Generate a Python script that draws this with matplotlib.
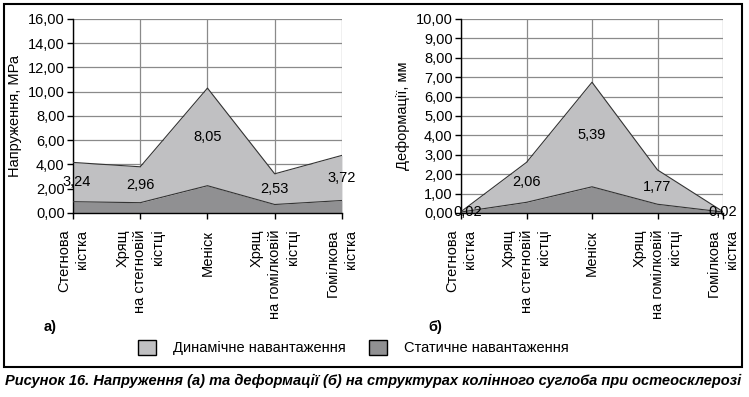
import matplotlib.pyplot as plt
from matplotlib.patches import Patch, Rectangle
from matplotlib.ticker import FuncFormatter
import numpy as np

plt.rcParams['font.family'] = ['Liberation Sans', 'DejaVu Sans']

categories = ['Стегнова\nкістка', 'Хрящ\nна стегновій\nкістці', 'Меніск',
              'Хрящ\nна гомілковій\nкістці', 'Гомілкова\nкістка']

# а) stress, MPa
static_a = [0.93, 0.85, 2.25, 0.70, 1.03]
dynamic_a = [3.24, 2.96, 8.05, 2.53, 3.72]

# б) deformation, mm
static_b = [0.05, 0.55, 1.35, 0.45, 0.05]
dynamic_b = [0.02, 2.06, 5.39, 1.77, 0.02]

c_dyn = '#c0c0c2'
c_stat = '#909092'
comma = FuncFormatter(lambda v, p: ('%.2f' % v).replace('.', ','))

fig = plt.figure(figsize=(7.49, 3.97), dpi=100)
ax1 = fig.add_axes([0.0975, 0.4635, 0.359, 0.4887])
ax2 = fig.add_axes([0.6155, 0.4635, 0.3498, 0.4887])


def draw(ax, stat, dyn, ymax, step, ylabel, shift_ends=0):
    x = np.arange(len(categories))
    stat = np.array(stat)
    dyn = np.array(dyn)
    top = stat + dyn
    ax.fill_between(x, 0, stat, color=c_stat, lw=0, zorder=2)
    ax.fill_between(x, stat, top, color=c_dyn, lw=0, zorder=2)
    ax.plot(x, stat, color='#333333', lw=0.8, zorder=3)
    ax.plot(x, top, color='#333333', lw=0.8, zorder=3)
    n = len(x)
    for i, (xi, s, d) in enumerate(zip(x, stat, dyn)):
        dx = shift_ends if i == 0 else 0
        ax.text(xi + dx, s + d / 2, ('%.2f' % d).replace('.', ','), ha='center',
                va='center', fontsize=10.5, zorder=4, clip_on=False)
    ax.set_xlim(0, n - 1)
    ax.set_ylim(0, ymax)
    ax.set_yticks(np.arange(0, ymax + step / 2, step))
    ax.yaxis.set_major_formatter(comma)
    ax.set_xticks(x)
    ax.set_xticklabels(categories, rotation=90, va='top', ha='center',
                       multialignment='right', fontsize=10.5, linespacing=1.35)
    ax.grid(True, color='#8a8a8a', lw=0.9, zorder=1)
    ax.set_axisbelow(True)
    for s in ['top', 'right']:
        ax.spines[s].set_visible(False)
    for s in ['left', 'bottom']:
        ax.spines[s].set_color('black')
        ax.spines[s].set_linewidth(1.0)
    ax.tick_params(direction='out', length=4, width=1, labelsize=10.5, pad=2)
    ax.tick_params(axis='x', pad=8)
    ax.set_ylabel(ylabel, fontsize=10.5, labelpad=4)


draw(ax1, static_a, dynamic_a, 16, 2, 'Напруження, МРа', shift_ends=0.06)
draw(ax2, static_b, dynamic_b, 10, 1, 'Деформації, мм', shift_ends=0.1)

fig.text(0.058, 0.176, 'а)', fontsize=10.5, fontweight='bold', va='center')
fig.text(0.572, 0.176, 'б)', fontsize=10.5, fontweight='bold', va='center')

handles = [Patch(facecolor=c_dyn, edgecolor='black', lw=1),
           Patch(facecolor=c_stat, edgecolor='black', lw=1)]
fig.legend(handles, ['Динамічне навантаження', 'Статичне навантаження'],
           loc='center', bbox_to_anchor=(0.472, 0.125), ncol=2, frameon=False,
           fontsize=10.5, handlelength=1.2, handleheight=1.2,
           columnspacing=1.6, handletextpad=1.2)

fig.patches.append(Rectangle((4 / 749, 1 - 367 / 397), 738 / 749, 363 / 397,
                             transform=fig.transFigure, fill=False,
                             edgecolor='black', lw=1.5))

fig.text(0.007, 1 - 381 / 397,
         'Рисунок 16. Напруження (а) та деформації (б) на структурах колінного суглоба при остеосклерозі',
         fontsize=10.5, fontweight='bold', fontstyle='italic', va='center')

fig.savefig('out.png', dpi=100)
